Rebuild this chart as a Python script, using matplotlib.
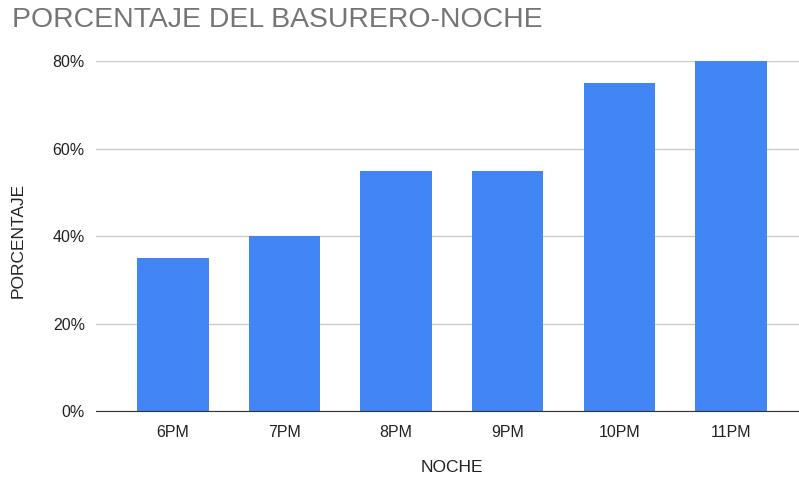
import matplotlib.pyplot as plt
from matplotlib.ticker import FuncFormatter

plt.rcParams['font.family'] = ['Liberation Sans', 'DejaVu Sans']

# Data
horas = ["6PM", "7PM", "8PM", "9PM", "10PM", "11PM"]
porcentaje = [35, 40, 55, 55, 75, 80]
y_ticks = [0, 20, 40, 60, 80]

fig = plt.figure(figsize=(7.99, 4.82), dpi=100)
ax = fig.add_axes([0.120, 0.147, 0.880, 0.726])

x = range(len(horas))
ax.bar(x, porcentaje, width=0.64, color="#4285F4", zorder=3)

ax.set_xlim(-0.69, 5.61)
ax.set_ylim(0, 80)
ax.set_xticks(list(x))
ax.set_xticklabels(horas)
ax.set_yticks(y_ticks)
ax.yaxis.set_major_formatter(FuncFormatter(lambda v, p: f"{v:.0f}%"))

ax.grid(axis="y", color="#cccccc", linewidth=1, zorder=0)
for s in ["top", "right", "left"]:
    ax.spines[s].set_visible(False)
ax.spines["bottom"].set_color("#333333")
ax.spines["bottom"].set_zorder(4)
ax.tick_params(axis="both", length=0, labelsize=11.5, colors="#222222")
ax.tick_params(axis="x", pad=10)
ax.tick_params(axis="y", pad=8)

# axis titles placed in figure coords
fig.text(0.566, 1 - 467 / 482, "NOCHE", fontsize=12.5, color="#222222",
         ha="center", va="center")
fig.text(18 / 799, 1 - 240 / 482, "PORCENTAJE", fontsize=12.5, color="#222222",
         ha="center", va="center", rotation=90)

fig.text(0.015, 1 - 20 / 482, "PORCENTAJE DEL BASURERO-NOCHE", fontsize=20.4,
         color="#757575", ha="left", va="center")

fig.savefig("out.png", dpi=100)
